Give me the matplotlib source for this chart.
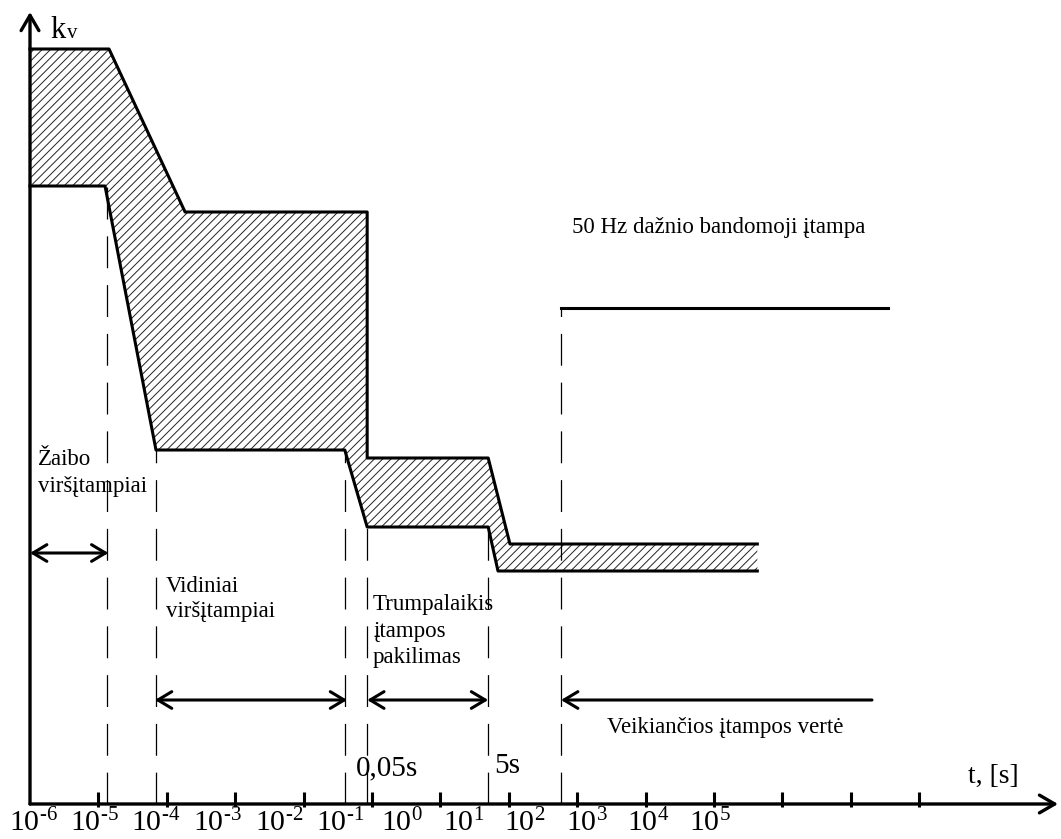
import numpy as np
import matplotlib.pyplot as plt

plt.rcParams['font.family'] = ['Liberation Serif', 'DejaVu Serif']
plt.rcParams['mathtext.fontset'] = 'custom'
plt.rcParams['mathtext.rm'] = 'Liberation Serif'
plt.rcParams['mathtext.it'] = 'Liberation Serif:italic'
plt.rcParams['hatch.linewidth'] = 0.7


# upper / lower envelope of the overvoltage band (t in s, k_v relative)
upper_t = [1e-6, 1.43e-5, 1.85e-4, 0.085, 0.085, 5.0, 10.4, 4.3e4]
upper_k = [7.55, 7.55, 5.92, 5.92, 3.46, 3.46, 2.60, 2.60]
lower_t = [1e-6, 1.25e-5, 6.95e-5, 0.040, 0.085, 5.0, 6.95, 4.3e4]
lower_k = [6.18, 6.18, 3.54, 3.54, 2.77, 2.77, 2.33, 2.33]

# 50 Hz test voltage level
test_t = [58, 3.5e6]
test_k = [4.96, 4.96]

# dashed borders between the regions
border_t = [1.35e-5, 6.95e-5, 0.040, 0.085, 5.0, 58]
border_k = [6.18, 3.54, 3.54, 2.77, 2.77, 4.96]

# decades on the time axis
tick_decades = list(range(-5, 8))
label_decades = list(range(-6, 6))

# duration intervals (start, end, level)
spans = [(1e-6, 1.4e-5, 2.51),
         (6.7e-5, 0.0433, 1.04),
         (0.085, 5.0, 1.04)]
working_span = (2.04e6, 58, 1.04)


fig = plt.figure(figsize=(10.61, 8.39), dpi=100)
ax = fig.add_axes([0, 0, 1, 1])
ax.set_xscale('log')
ax.set_xlim(10 ** -6.4386, 10 ** 9.0731)
ax.set_ylim(-0.35, 8.04)
ax.axis('off')

# hatched band
band_t = upper_t + lower_t[::-1]
band_k = upper_k + lower_k[::-1]
ax.fill(band_t, band_k, facecolor='white', edgecolor='#222222', hatch='////', linewidth=0)

ax.plot(upper_t, upper_k, color='black', lw=2.2)
ax.plot(lower_t, lower_k, color='black', lw=2.2)
ax.plot(test_t, test_k, color='black', lw=2.2)

ax.vlines(border_t, 0, border_k, colors='black', lw=0.9, linestyles=[(0, (25.5, 13.5))])

# axes with arrows
axis_arrow = dict(arrowstyle='->,head_length=0.55,head_width=0.32', lw=2.4, color='black',
                  shrinkA=0, shrinkB=0, mutation_scale=20)
ax.annotate('', xy=(1e-6, 7.92), xytext=(1e-6, 0), arrowprops=axis_arrow)
ax.annotate('', xy=(1.07e9, 0), xytext=(1e-6, 0), arrowprops=axis_arrow)

ax.vlines([10.0 ** d for d in tick_decades], -0.03, 0.12, colors='black', lw=2.2)

# labels drift left of the ticks in the original drawing
for i, d in enumerate(label_decades):
    ax.text(10 ** (-5.956 + 0.899 * i), -0.335, r'$10^{\text{%d}}$' % d,
            ha='center', va='bottom', fontsize=21.5)

# interval arrows
span_arrow = dict(arrowstyle='<->,head_length=0.5,head_width=0.3', lw=2.2, color='black',
                  shrinkA=0, shrinkB=0, mutation_scale=20)
for t0, t1, k in spans:
    ax.annotate('', xy=(t1, k), xytext=(t0, k), arrowprops=span_arrow)
ax.annotate('', xy=(working_span[1], working_span[2]), xytext=(working_span[0], working_span[2]),
            arrowprops=dict(span_arrow, arrowstyle='->,head_length=0.5,head_width=0.3'))


def block(x, y, lines, step, size=16.5):
    for j, line in enumerate(lines):
        ax.text(x, y - j * step, line, fontsize=size, va='baseline', ha='left')


ax.text(1.96e-6, 7.66, 'k', fontsize=22, va='baseline')
ax.text(3.5e-6, 7.66, 'v', fontsize=15, va='baseline')

block(84, 5.71, ['50 Hz dažnio bandomoji įtampa'], 0)
block(1.31e-6, 3.39, ['Žaibo', 'viršįtampiai'], 0.27)
block(9.7e-5, 2.12, ['Vidiniai', 'viršįtampiai'], 0.25)
block(0.1035, 1.94, ['Trumpalaikis', 'įtampos', 'pakilimas'], 0.265)
block(273, 0.71, ['Veikiančios įtampos vertė'], 0)

ax.text(0.0583, 0.29, '0,05s', fontsize=21, va='baseline')
ax.text(6.08, 0.31, '5s', fontsize=21, va='baseline')
ax.text(5.2e7, 0.21, 't, [s]', fontsize=20, va='baseline')

fig.savefig('out.png', dpi=100)
